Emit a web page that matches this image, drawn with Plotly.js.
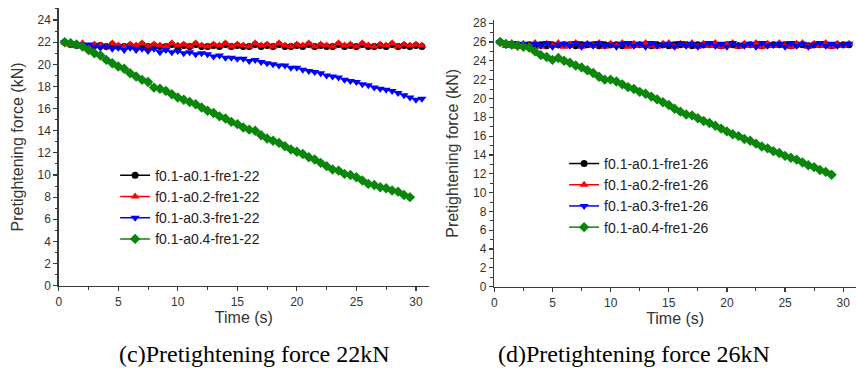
<!DOCTYPE html>
<html>
<head>
<meta charset="utf-8">
<script src="https://cdn.plot.ly/plotly-3.0.1.min.js"></script>
<style>html,body{margin:0;padding:0;background:#fff;}#chart{width:856px;height:368px;}</style>
</head>
<body>
<div id="chart"></div>
<script>
// ---- data ----
const timeAll = [0.5,1.0,1.5,2.0,2.5,3.0,3.5,4.0,4.5,5.0,5.5,6.0,6.5,7.0,7.5,8.0,8.5,9.0,9.5,10.0,
  10.5,11.0,11.5,12.0,12.5,13.0,13.5,14.0,14.5,15.0,15.5,16.0,16.5,17.0,17.5,18.0,18.5,19.0,19.5,20.0,
  20.5,21.0,21.5,22.0,22.5,23.0,23.5,24.0,24.5,25.0,25.5,26.0,26.5,27.0,27.5,28.0,28.5,29.0,29.5,30.0,30.5];

const seriesNames22 = ["f0.1-a0.1-fre1-22","f0.1-a0.2-fre1-22","f0.1-a0.3-fre1-22","f0.1-a0.4-fre1-22"];
const seriesNames26 = ["f0.1-a0.1-fre1-26","f0.1-a0.2-fre1-26","f0.1-a0.3-fre1-26","f0.1-a0.4-fre1-26"];

const a01_22 = [22.0,21.8,21.7,21.7,21.6,21.7,21.7,21.6,21.8,21.6,21.6,21.7,21.6,21.8,21.6,21.7,21.6,21.6,21.8,21.6,
  21.7,21.6,21.8,21.6,21.6,21.7,21.6,21.8,21.6,21.7,21.6,21.6,21.8,21.6,21.7,21.6,21.8,21.6,21.6,21.7,
  21.6,21.8,21.6,21.7,21.6,21.6,21.8,21.6,21.7,21.6,21.8,21.6,21.6,21.7,21.6,21.8,21.6,21.7,21.6,21.7,21.6];
const a02_22 = [22.0,21.8,21.7,21.9,21.6,21.8,21.7,21.6,21.9,21.7,21.6,21.8,21.7,21.9,21.6,21.8,21.7,21.6,21.9,21.7,
  21.8,21.6,21.9,21.7,21.6,21.8,21.7,21.9,21.6,21.8,21.7,21.6,21.9,21.7,21.8,21.6,21.9,21.7,21.6,21.8,
  21.7,21.9,21.6,21.8,21.7,21.6,21.9,21.7,21.8,21.6,21.9,21.7,21.6,21.8,21.7,21.9,21.6,21.8,21.7,21.8,21.7];
const a03_22 = [22.0,21.9,21.8,21.7,21.8,21.6,21.5,21.6,21.4,21.5,21.3,21.5,21.3,21.4,21.2,21.4,21.1,21.3,21.1,21.2,
  21.0,21.1,20.9,21.0,20.9,20.7,20.8,20.6,20.6,20.5,20.5,20.3,20.4,20.2,20.1,20.0,19.9,19.9,19.7,19.7,
  19.5,19.4,19.3,19.2,19.0,18.9,18.8,18.6,18.5,18.4,18.2,18.1,17.9,17.8,17.7,17.6,17.4,17.2,17.0,16.8,16.9];
const a04_22 = [22.0,21.9,21.8,21.6,21.3,21.0,20.8,20.4,20.1,19.8,19.6,19.2,18.9,18.6,18.4,17.9,17.8,17.6,17.3,17.0,
  16.8,16.6,16.4,16.1,15.8,15.6,15.3,15.1,14.8,14.6,14.3,14.1,14.0,13.6,13.3,13.1,12.9,12.6,12.3,12.1,
  11.9,11.6,11.4,11.1,10.8,10.5,10.4,10.1,10.0,9.8,9.5,9.2,9.1,8.9,8.8,8.6,8.5,8.2,8.0];

const a01_26 = [26.0,25.7,25.7,25.7,25.6,25.7,25.7,25.7,25.6,25.7,25.7,25.7,25.7,25.6,25.7,25.7,25.7,25.6,25.7,25.7,
  25.7,25.6,25.7,25.7,25.7,25.7,25.6,25.7,25.7,25.6,25.7,25.7,25.7,25.6,25.7,25.7,25.7,25.7,25.6,25.7,
  25.7,25.6,25.7,25.7,25.7,25.6,25.7,25.7,25.7,25.7,25.6,25.7,25.7,25.6,25.7,25.7,25.7,25.6,25.7,25.7,25.7];
const a02_26 = [26.0,25.6,25.9,25.5,25.8,25.6,25.9,25.5,25.8,25.6,25.9,25.5,25.7,25.9,25.5,25.8,25.6,25.9,25.5,25.8,
  25.6,25.9,25.5,25.8,25.6,25.9,25.6,25.5,25.8,25.9,25.5,25.8,25.6,25.9,25.5,25.8,25.6,25.9,25.5,25.7,
  25.9,25.5,25.8,25.6,25.9,25.5,25.8,25.6,25.9,25.6,25.5,25.8,25.9,25.5,25.8,25.6,25.9,25.5,25.8,25.6,25.8];
const a03_26 = [26.0,25.7,25.9,25.6,25.8,25.5,25.8,25.6,25.9,25.5,25.7,25.8,25.6,25.9,25.5,25.8,25.6,25.9,25.6,25.7,
  25.5,25.8,25.9,25.6,25.8,25.5,25.9,25.6,25.7,25.8,25.5,25.9,25.6,25.8,25.5,25.7,25.9,25.6,25.8,25.5,
  25.9,25.7,25.6,25.8,25.5,25.9,25.6,25.7,25.8,25.5,25.9,25.6,25.8,25.5,25.7,25.9,25.6,25.8,25.6,25.7,25.8];
const a04_26 = [26.0,25.8,25.7,25.6,25.5,25.4,25.0,24.6,24.4,24.1,24.3,24.0,23.8,23.5,23.3,23.0,22.7,22.3,22.0,22.0,
  21.8,21.5,21.2,21.0,20.7,20.5,20.2,19.9,19.6,19.3,18.9,18.6,18.3,18.2,17.9,17.6,17.4,17.1,16.8,16.5,
  16.2,16.0,15.7,15.5,15.2,14.9,14.7,14.4,14.2,13.9,13.7,13.5,13.2,12.9,12.7,12.4,12.2,11.9];

const yTicks22 = [0,2,4,6,8,10,12,14,16,18,20,22,24];
const yTicks26 = [0,2,4,6,8,10,12,14,16,18,20,22,24,26,28];
const xTicks = [0,5,10,15,20,25,30];
const captions = ["(c)Pretightening force 22kN","(d)Pretightening force 26kN"];
const xTitle = "Time (s)";
const yTitle = "Pretightening force (kN)";

// ---- styles ----
const colors = ["#000000","#ff0000","#0000ff","#0a870a"];
const symbols = ["circle","triangle-up","triangle-down","diamond"];
const msizes = [7,8,8,8];
const axisColor = "#3a3a3a";

function mk(y, i, names, xa, ya, leg) {
  return {
    x: timeAll.slice(0, y.length), y: y, name: names[i],
    xaxis: xa, yaxis: ya, legend: leg,
    type: "scatter", mode: "lines+markers",
    line: {color: colors[i], width: 1.5},
    marker: {color: colors[i], symbol: symbols[i], size: msizes[i]}
  };
}
const data = [
  mk(a01_22,0,seriesNames22,"x","y","legend"),
  mk(a02_22,1,seriesNames22,"x","y","legend"),
  mk(a03_22,2,seriesNames22,"x","y","legend"),
  mk(a04_22,3,seriesNames22,"x","y","legend"),
  mk(a01_26,0,seriesNames26,"x2","y2","legend2"),
  mk(a02_26,1,seriesNames26,"x2","y2","legend2"),
  mk(a03_26,2,seriesNames26,"x2","y2","legend2"),
  mk(a04_26,3,seriesNames26,"x2","y2","legend2")
];

const tickFont = {family:"Liberation Sans, Arial, sans-serif", size:12, color:"#333"};
const titleFont = {family:"Liberation Sans, Arial, sans-serif", size:16, color:"#333"};
function xax(dom, anchor) {
  return {domain: dom, anchor: anchor, range:[0,31.1], tickvals: xTicks, ticks:"outside", ticklen:4,
    tickwidth:1.2, tickcolor:axisColor, showline:true, linecolor:axisColor, linewidth:1.5,
    showgrid:false, zeroline:false, tickfont: tickFont,
    minor:{ticks:"outside", ticklen:2.5, dtick:2.5, tick0:0, tickcolor:axisColor, tickwidth:1},
    title:{text:xTitle, font:titleFont, standoff:1}};
}
function yax(dom, anchor, rng, tv) {
  return {domain: dom, anchor: anchor, range: rng, tickvals: tv, ticks:"outside", ticklen:4,
    tickwidth:1.2, tickcolor:axisColor, showline:true, linecolor:axisColor, linewidth:1.5,
    showgrid:false, zeroline:false, tickfont: tickFont,
    minor:{ticks:"outside", ticklen:2.5, dtick:1, tick0:0, tickcolor:axisColor, tickwidth:1},
    title:{text:yTitle, font:titleFont, standoff:10}};
}
const legFont = {family:"Liberation Sans, Arial, sans-serif", size:14, color:"#222"};
const capFont = {family:"Liberation Serif, Times New Roman, serif", size:24, color:"#000"};
const layout = {
  width:856, height:368, margin:{l:0,r:0,t:0,b:0},
  paper_bgcolor:"#ffffff", plot_bgcolor:"rgba(0,0,0,0)", showlegend:true,
  xaxis: xax([0.0686,0.5012],"y"),
  yaxis: yax([0.2236,0.978],"x",[0,25.08],yTicks22),
  xaxis2: xax([0.5775,1.0],"y2"),
  yaxis2: yax([0.2209,0.946],"x2",[0,28.35],yTicks26),
  legend: {x:0.1345, y:0.566, xanchor:"left", yanchor:"top", bgcolor:"rgba(0,0,0,0)", font:legFont, tracegroupgap:0},
  legend2: {x:0.659, y:0.598, xanchor:"left", yanchor:"top", bgcolor:"rgba(0,0,0,0)", font:legFont, tracegroupgap:0},
  annotations: [
    {text:captions[0], xref:"paper", yref:"paper", x:0.2973, y:0.038, xanchor:"center", yanchor:"middle", showarrow:false, font:capFont},
    {text:captions[1], xref:"paper", yref:"paper", x:0.7401, y:0.038, xanchor:"center", yanchor:"middle", showarrow:false, font:capFont}
  ]
};
Plotly.newPlot("chart", data, layout, {staticPlot:true, displayModeBar:false});
</script>
</body>
</html>
